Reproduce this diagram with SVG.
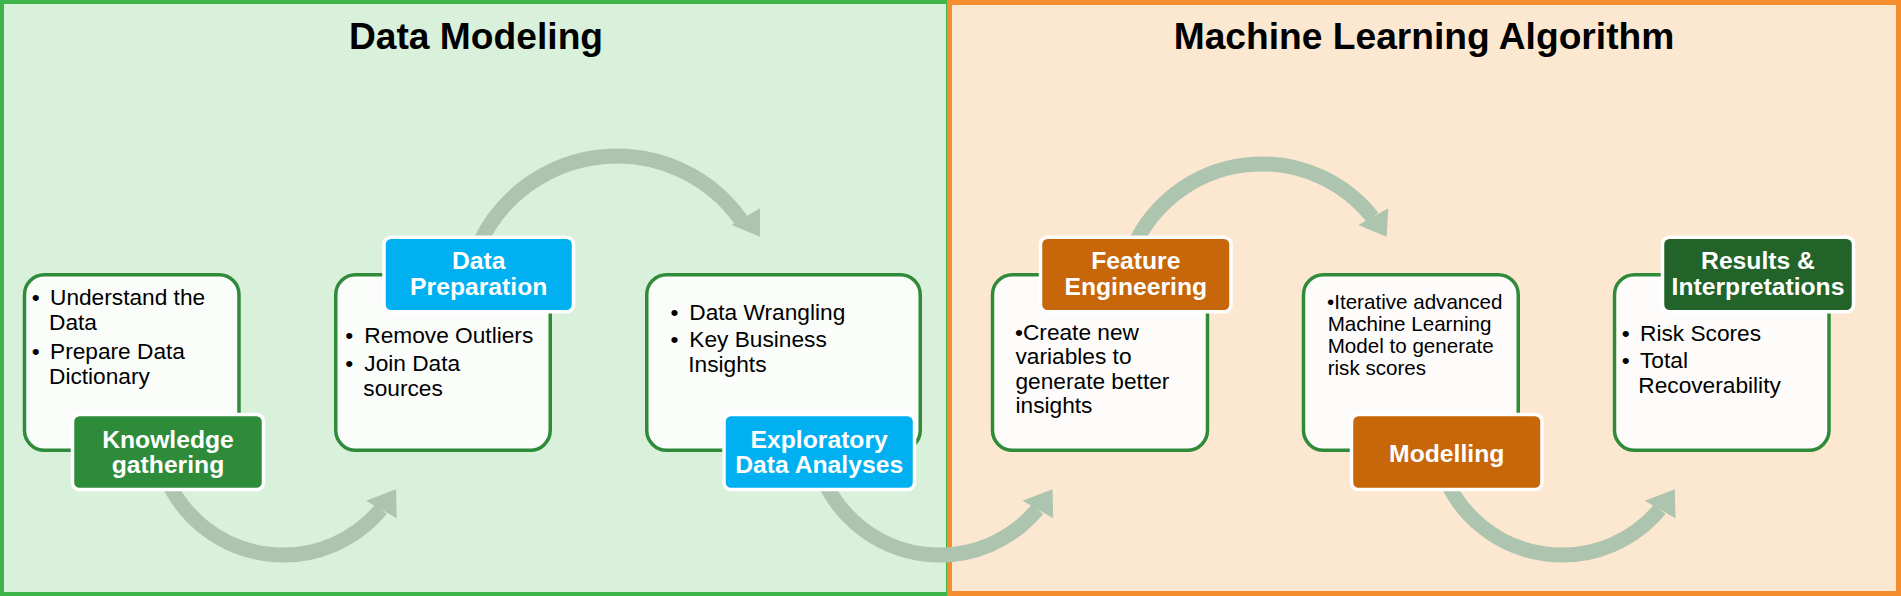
<svg xmlns="http://www.w3.org/2000/svg" width="1901" height="596" viewBox="0 0 1901 596">
<defs>
<style>
.title{font-family:"Liberation Sans",Arial,sans-serif;font-weight:bold;font-size:37.2px;fill:#000;text-anchor:middle}
.body{font-family:"Liberation Sans",Arial,sans-serif;font-size:22.7px;fill:#000}
.small{font-family:"Liberation Sans",Arial,sans-serif;font-size:20.6px;fill:#000}
.bul{font-family:"Liberation Sans",Arial,sans-serif;font-size:22.7px;fill:#000;text-anchor:middle}
.lbl{font-family:"Liberation Sans",Arial,sans-serif;font-weight:bold;font-size:24.7px;fill:#fff;text-anchor:middle}
.boxL{fill:#FBFDFB;stroke:#2F8A3A;stroke-width:3.5}
.boxR{fill:#FEFCFA;stroke:#2F8A3A;stroke-width:3.5}
.tag{stroke:#fff;stroke-width:3.5}
.arc{fill:none;stroke:#ADC4AE;stroke-width:15}
.head{fill:#ADC4AE}
</style>
</defs>
<g id="panels">
<rect id="panel-data-modeling" x="2" y="2" width="946" height="592" fill="#D9F0DB" stroke="#3FB44A" stroke-width="4"/>
<rect id="panel-ml" x="949.5" y="2.5" width="949" height="591" fill="#FCE8D1" stroke="#F68D2E" stroke-width="5"/>
<text class="title" x="476" y="49">Data Modeling</text>
<text class="title" x="1424" y="49">Machine Learning Algorithm</text>
</g>
<g id="connectors">
<path class="arc" d="M 478.7 245 A 152 152 0 0 1 741.1 220.2"/>
<polygon class="head" points="731.7,225 760,208.3 760,236.7"/>
<path class="arc" d="M 1134.4 245 A 141 141 0 0 1 1372.5 217.3"/>
<polygon class="head" points="1358.3,225 1388.3,208.3 1386.7,236.7"/>
<path class="arc" d="M 167.2 480 A 127.3 127.3 0 0 0 381 509.3"/>
<polygon class="head" points="366,500.7 396,489.3 396.7,518.3"/>
<path class="arc" d="M 823.7 480 A 127.3 127.3 0 0 0 1037.5 509.3"/>
<polygon class="head" points="1022.5,500.7 1052.5,489.3 1053.2,518.3"/>
<path class="arc" d="M 1446 480 A 127.3 127.3 0 0 0 1659.8 509.3"/>
<polygon class="head" points="1644.8,500.7 1674.8,489.3 1675.5,518.3"/>
</g>
<g id="node-knowledge">
<rect class="boxL" x="24.5" y="274.75" width="214.5" height="175.5" rx="20"/>
<text class="bul" x="35.8" y="305">•</text>
<text class="body" x="50" y="305">Understand the</text>
<text class="body" x="49" y="330">Data</text>
<text class="bul" x="35.8" y="359">•</text>
<text class="body" x="50" y="359">Prepare Data</text>
<text class="body" x="49" y="384">Dictionary</text>
<rect class="tag" x="72.5" y="414.5" width="191" height="75" rx="7" fill="#2E8B3A"/>
<text class="lbl" x="168" y="447.7">Knowledge</text>
<text class="lbl" x="168" y="473.3">gathering</text>
</g>
<g id="node-data-preparation">
<rect class="boxL" x="335.75" y="274.75" width="214.5" height="175.5" rx="20"/>
<text class="bul" x="349.3" y="343.3">•</text>
<text class="body" x="364.3" y="343.3">Remove Outliers</text>
<text class="bul" x="349.3" y="370.7">•</text>
<text class="body" x="364.3" y="370.7">Join Data</text>
<text class="body" x="363.3" y="395.7">sources</text>
<rect class="tag" x="384" y="237.25" width="189.5" height="74.5" rx="7" fill="#00B0F0"/>
<text class="lbl" x="478.7" y="269.3">Data</text>
<text class="lbl" x="478.7" y="295">Preparation</text>
</g>
<g id="node-eda">
<rect class="boxL" x="646.75" y="274.75" width="273.5" height="175.5" rx="20"/>
<text class="bul" x="674.5" y="320">•</text>
<text class="body" x="689.3" y="320">Data Wrangling</text>
<text class="bul" x="674.5" y="346.7">•</text>
<text class="body" x="689.3" y="346.7">Key Business</text>
<text class="body" x="688.3" y="371.7">Insights</text>
<rect class="tag" x="724" y="414.5" width="190.5" height="75" rx="7" fill="#00B0F0"/>
<text class="lbl" x="819.2" y="447.7">Exploratory</text>
<text class="lbl" x="819.2" y="472.7">Data Analyses</text>
</g>
<g id="node-feature-engineering">
<rect class="boxR" x="992.5" y="274.75" width="215" height="175.5" rx="20"/>
<text class="body" x="1015" y="339.5">•Create new</text>
<text class="body" x="1015.5" y="364">variables to</text>
<text class="body" x="1015.5" y="388.5">generate better</text>
<text class="body" x="1015.5" y="413">insights</text>
<rect class="tag" x="1040.5" y="237.25" width="190.5" height="74.5" rx="7" fill="#C8660A"/>
<text class="lbl" x="1135.8" y="269.3">Feature</text>
<text class="lbl" x="1135.8" y="295">Engineering</text>
</g>
<g id="node-modelling">
<rect class="boxR" x="1303.5" y="274.75" width="214.75" height="175.5" rx="20"/>
<text class="small" x="1327" y="308.5">•Iterative advanced</text>
<text class="small" x="1327.7" y="330.7">Machine Learning</text>
<text class="small" x="1327.7" y="352.9">Model to generate</text>
<text class="small" x="1327.7" y="375.1">risk scores</text>
<rect class="tag" x="1351.5" y="414.5" width="190.5" height="75" rx="7" fill="#C8660A"/>
<text class="lbl" x="1446.7" y="461.7">Modelling</text>
</g>
<g id="node-results">
<rect class="boxR" x="1614.5" y="274.75" width="214.5" height="175.5" rx="20"/>
<text class="bul" x="1625.7" y="340.7">•</text>
<text class="body" x="1640" y="340.7">Risk Scores</text>
<text class="bul" x="1625.7" y="368.3">•</text>
<text class="body" x="1640" y="368.3">Total</text>
<text class="body" x="1638.3" y="392.7">Recoverability</text>
<rect class="tag" x="1662.5" y="237.25" width="191" height="74.5" rx="7" fill="#226329"/>
<text class="lbl" x="1758" y="269.3">Results &amp;</text>
<text class="lbl" x="1758" y="295">Interpretations</text>
</g>
</svg>
